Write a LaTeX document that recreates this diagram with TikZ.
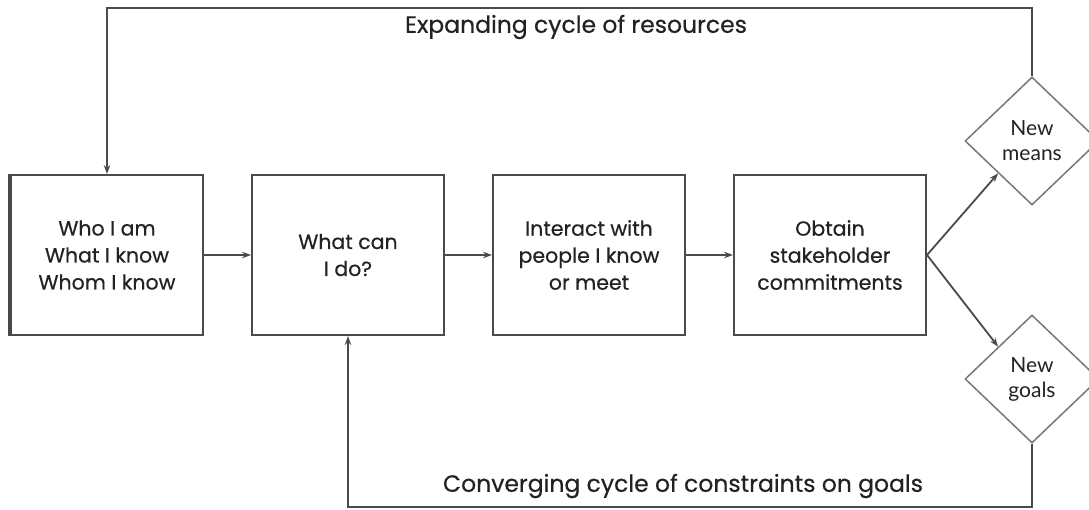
\documentclass[tikz,border=0pt]{standalone}
\usepackage{fontspec}
\setmainfont{Poppins}[FakeBold=0.5]
\newfontfamily\diafont{Lato}
\usetikzlibrary{shapes.geometric,arrows.meta}
\definecolor{edge}{HTML}{4A4A4A}
\definecolor{dedge}{HTML}{777777}
\definecolor{txt}{HTML}{222222}
\begin{document}
\begin{tikzpicture}[x=1pt,y=-1pt,
  box/.style={draw=edge,line width=2pt,minimum width=192pt,minimum height=160pt,inner sep=0pt,align=center,text=txt,font=\fontsize{20.5}{27}\selectfont},
  dia/.style={diamond,draw=dedge,line width=1.5pt,minimum width=134pt,minimum height=128pt,inner sep=0pt,align=center,text=txt,font=\diafont\fontsize{21}{25}\selectfont},
  conn/.style={draw=edge,line width=1.8pt},
  arr/.style={conn,-{Stealth[length=9pt,width=6.5pt]}},
  lbl/.style={text=txt,font=\fontsize{23.5}{28}\selectfont}]
\useasboundingbox (0,0) rectangle (1089,510);
\node[box] (b1) at (107,255) {Who I am\\What I know\\Whom I know};
\draw[edge,line width=4pt] (b1.north west) -- (b1.south west);
\node[box] (b2) at (348,255) {What can\\I do?};
\node[box] (b3) at (589,255) {Interact with\\people I know\\or meet};
\node[box] (b4) at (830,255) {Obtain\\stakeholder\\commitments};
\node[dia] (dm) at (1032,141) {New\\means};
\node[dia] (dg) at (1032,379) {New\\goals};
\coordinate (t1) at (1032,8);
\coordinate (t2) at (107,8);
\coordinate (u1) at (1032,507);
\coordinate (u2) at (348,507);
\draw[arr] (b1.east) -- (b2.west);
\draw[arr] (b2.east) -- (b3.west);
\draw[arr] (b3.east) -- (b4.west);
\draw[arr] (b4.east) -- (dm.south west);
\draw[arr] (b4.east) -- (dg.north west);
\draw[arr] (dm.north) -- (t1) -- (t2) -- (b1.north);
\draw[arr] (dg.south) -- (u1) -- (u2) -- (b2.south);
\node[lbl] (l1) at (576,27) {Expanding cycle of resources};
\node[lbl] (l2) at (683,486) {Converging cycle of constraints on goals};
\end{tikzpicture}
\end{document}
